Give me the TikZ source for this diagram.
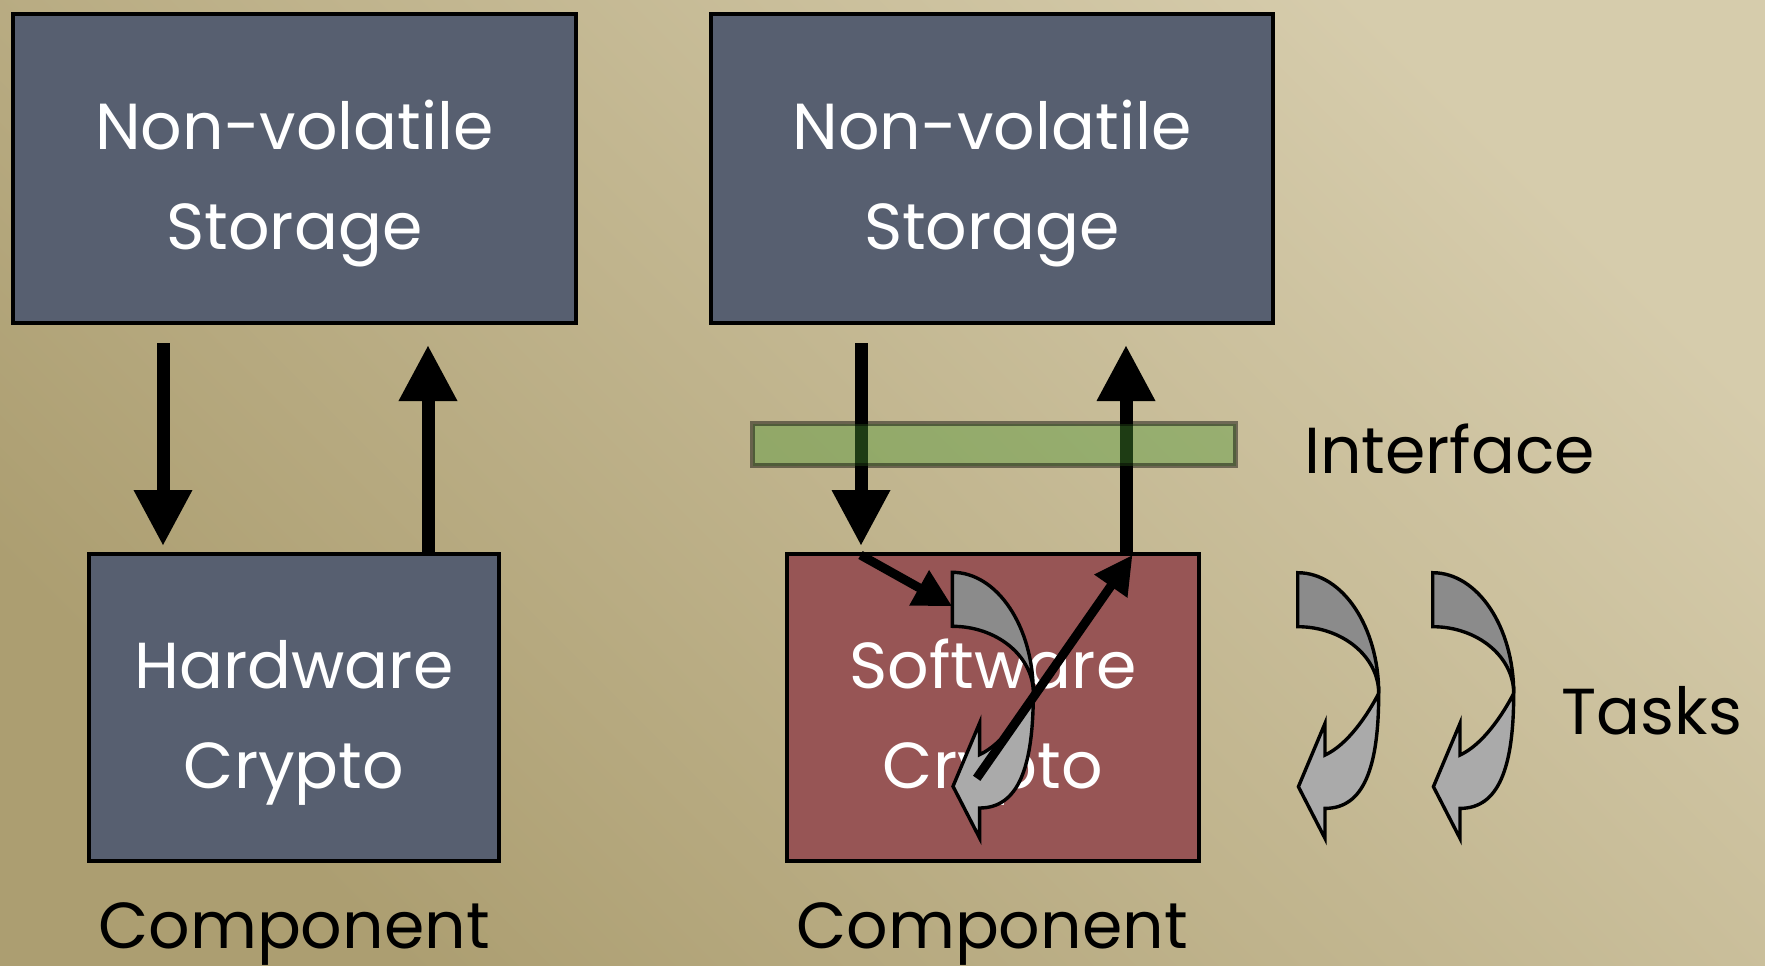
\documentclass[tikz,border=0pt]{standalone}
\usepackage{fontspec}
\setmainfont{Poppins}
\usetikzlibrary{arrows.meta,calc}

\definecolor{slate}{RGB}{87,95,112}
\definecolor{brick}{RGB}{151,85,85}
\definecolor{bgdark}{RGB}{172,158,113}
\definecolor{bglight}{RGB}{214,204,172}
\definecolor{ifgreen}{RGB}{77,152,50}
\definecolor{ribbondark}{RGB}{139,139,139}
\definecolor{ribbonlight}{RGB}{170,170,170}

\tikzset{
  % curved "task" ribbon arrow, origin at its top-left corner
  taskarrow/.pic={
    \coordinate (-in) at (0,34);
    \coordinate (-start) at (24.4,206);
    \filldraw[ribbon, fill=ribbonlight]
      (81,120.7) .. controls (81,195) and (66,235.7) .. (27.3,235.7)
      -- (27.3,265.7) -- (0.7,214) -- (27.3,150.7) -- (27.3,182.3)
      .. controls (50,172) and (70,142) .. cycle;
    \filldraw[ribbon, fill=ribbondark]
      (0,0) .. controls (44.7,0) and (81,54) .. (81,120.7)
      .. controls (81,83.9) and (44.7,54) .. (0,54) -- cycle;
  }
}

\begin{document}
\begin{tikzpicture}[x=1pt,y=-1pt,
  block/.style={draw=black, line width=4pt, inner sep=0pt},
  blocktext/.style={text=white, anchor=base, inner sep=0pt, font=\fontsize{65}{78}\selectfont},
  caption/.style={text=black, anchor=base, inner sep=0pt, font=\fontsize{65}{78}\selectfont},
  bigarrow/.style={line width=13pt, -{Triangle[width=55pt,length=56pt]}},
  smallarrow/.style={line width=9pt, -{Triangle[width=38pt,length=38pt]}},
  ribbon/.style={draw=black, line width=3.4pt},
  ifbar/.style={draw=black, draw opacity=0.45, fill=ifgreen, fill opacity=0.4,
    line width=5pt, inner sep=0pt},
]
\useasboundingbox (0,0) rectangle (1765,966);
\shade[bottom color=bgdark, top color=bglight, shading angle=-45] (0,0) rectangle (1765,966);

% storage and crypto blocks
\node[block, fill=slate, minimum width=563pt, minimum height=309pt] (nvsL) at (294.5,168.5) {};
\node[block, fill=slate, minimum width=562pt, minimum height=309pt] (nvsR) at (992,168.5) {};
\node[block, fill=slate, minimum width=410pt, minimum height=307pt] (hw) at (294,707.5) {};
\node[block, fill=brick, minimum width=412pt, minimum height=307pt] (sw) at (993,707.5) {};

\node[blocktext] (nvsLa) at (294.5,149) {Non-volatile};
\node[blocktext] (nvsLb) at (294.5,249) {Storage};
\node[blocktext] (nvsRa) at (992,149) {Non-volatile};
\node[blocktext] (nvsRb) at (992,249) {Storage};
\node[blocktext] (hwa) at (294,688) {Hardware};
\node[blocktext] (hwb) at (294,788) {Crypto};
\node[blocktext] (swa) at (993,688) {Software};
\node[blocktext] (swb) at (993,788) {Crypto};

% data paths between storage and crypto
\draw[bigarrow, shorten <=18pt, shorten >=6pt] ([xshift=-131.5pt]nvsL.south) -- ([xshift=-131pt]hw.north);
\draw[bigarrow, shorten >=20pt] ([xshift=134pt]hw.north) -- ([xshift=133.5pt]nvsL.south);
\draw[bigarrow, shorten <=18pt, shorten >=6pt] ([xshift=-131pt]nvsR.south) -- ([xshift=-132pt]sw.north);
\draw[bigarrow, shorten >=20pt] ([xshift=133pt]sw.north) -- ([xshift=134pt]nvsR.south);

% interface layer
\node[ifbar, minimum width=483pt, minimum height=42pt] (iface) at (994,444.5) {};

% tasks
\pic (taskA) at (952.3,572.3) {taskarrow};
\pic (taskB) at (1297.7,572.7) {taskarrow};
\pic (taskC) at (1432.7,572.7) {taskarrow};

\draw[smallarrow] ($(sw.north)+(-132.5,3)$) -- (taskA-in);
\draw[smallarrow] (taskA-start) -- ($(sw.north)+(139.5,3)$);

% labels
\node[caption] (ifacelbl) at (1449.5,473) {Interface};
\node[caption] (taskslbl) at (1652,734) {Tasks};
\node[caption] (compL) at (294,948) {Component};
\node[caption] (compR) at (992,948) {Component};
\end{tikzpicture}
\end{document}
